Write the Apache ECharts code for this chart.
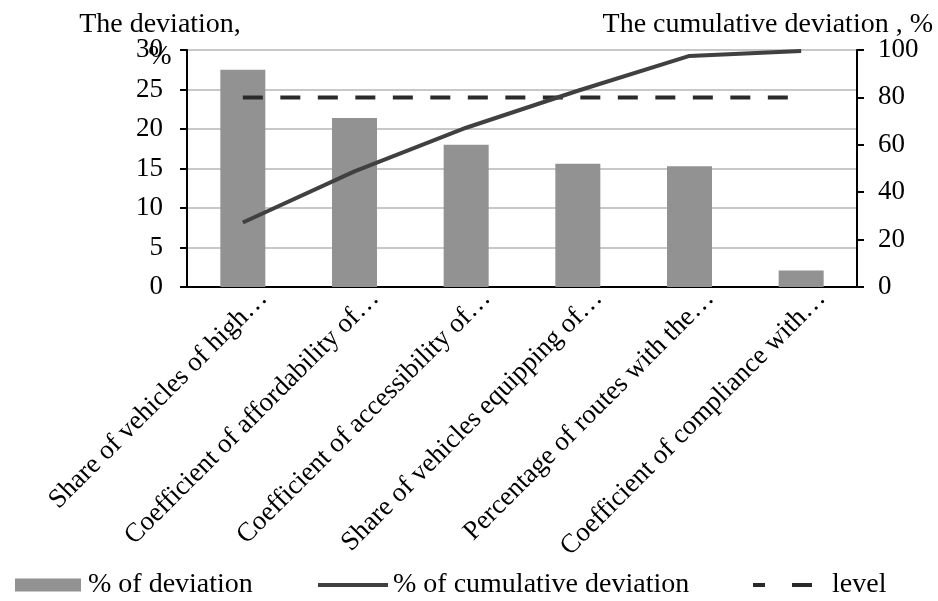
<!DOCTYPE html>
<html>
<head>
<meta charset="utf-8">
<script src="https://cdn.jsdelivr.net/npm/echarts@6/dist/echarts.min.js"></script>
<style>
html,body{margin:0;padding:0;background:#fff;}
#chart{width:938px;height:601px;}
</style>
</head>
<body>
<div id="chart"></div>
<script>
var categories = [
  'Share of vehicles of high\u2026',
  'Coefficient of affordability of\u2026',
  'Coefficient of accessibility of\u2026',
  'Share of vehicles equipping of\u2026',
  'Percentage of routes with the\u2026',
  'Coefficient of compliance with\u2026'
];
var deviation = [27.5, 21.4, 18.0, 15.6, 15.3, 2.1];
var cumulative = [27.2, 48.8, 67.2, 82.8, 97.5, 99.6];
var level = [80, 80, 80, 80, 80, 80];
var leftTicks = { min: 0, max: 30, interval: 5 };
var rightTicks = { min: 0, max: 100, interval: 20 };
var leftTitle = 'The deviation,\n%';
var rightTitle = 'The cumulative deviation , %';
var seriesNames = ['% of deviation', '% of cumulative deviation', 'level'];

var FONT = 'Liberation Serif';
var chart = echarts.init(document.getElementById('chart'), null, { renderer: 'canvas' });
var legendText = { fontFamily: FONT, fontSize: 28, color: '#000' };
chart.setOption({
  animation: false,
  backgroundColor: '#fff',
  grid: { left: 187, right: 81, top: 50, bottom: 314, outerBoundsMode: 'none', containLabel: false },
  graphic: [
    { type: 'text', x: 160, y: 9, style: { text: leftTitle, font: '28px "Liberation Serif"', fill: '#000', textAlign: 'center', textVerticalAlign: 'top', lineHeight: 32 } },
    { type: 'text', x: 933, y: 9, style: { text: rightTitle, font: '28px "Liberation Serif"', fill: '#000', textAlign: 'right', textVerticalAlign: 'top', lineHeight: 32 } }
  ],
  legend: [
    { data: [{ name: seriesNames[0], icon: 'rect' }], left: 15, bottom: 2, padding: 0, itemWidth: 66, itemHeight: 13, itemGap: 0,
      textStyle: Object.assign({}, legendText, { padding: [0, 0, 0, 2] }) },
    { data: [{ name: seriesNames[1], icon: 'rect' }], left: 318, bottom: 2, padding: 0, itemWidth: 70, itemHeight: 4, itemGap: 0,
      textStyle: Object.assign({}, legendText, { padding: [0, 0, 0, 0] }) },
    { data: [{ name: seriesNames[2], icon: 'path://M0,0h12v4h-12z M39,0h20v4h-20z' }], left: 753, bottom: 2, padding: 0, itemWidth: 59, itemHeight: 4, itemGap: 0,
      textStyle: Object.assign({}, legendText, { padding: [0, 0, 0, 15] }) }
  ],
  xAxis: {
    type: 'category',
    data: categories,
    axisLine: { show: true, lineStyle: { color: '#000', width: 2 } },
    axisTick: { show: false },
    axisLabel: {
      interval: 0, rotate: 45, margin: 28, color: '#000',
      fontFamily: FONT, fontSize: 27,
      padding: [0, -29, 0, 0]
    },
    splitLine: { show: false }
  },
  yAxis: [
    {
      type: 'value', min: leftTicks.min, max: leftTicks.max, interval: leftTicks.interval,
      axisLine: { show: true, lineStyle: { color: '#000', width: 2 } },
      axisTick: { show: true, length: 7, lineStyle: { color: '#000', width: 2 } },
      axisLabel: { margin: 24, color: '#000', fontFamily: FONT, fontSize: 27 },
      splitLine: { show: true, lineStyle: { color: '#c8c8c8', width: 2 } }
    },
    {
      type: 'value', min: rightTicks.min, max: rightTicks.max, interval: rightTicks.interval,
      position: 'right',
      axisLine: { show: true, lineStyle: { color: '#000', width: 2 } },
      axisTick: { show: true, length: 7, lineStyle: { color: '#000', width: 2 } },
      axisLabel: { margin: 21, color: '#000', fontFamily: FONT, fontSize: 27 },
      splitLine: { show: false }
    }
  ],
  series: [
    {
      name: seriesNames[0], type: 'bar', yAxisIndex: 0, data: deviation,
      barWidth: 45, itemStyle: { color: '#929292' }
    },
    {
      name: seriesNames[1], type: 'line', yAxisIndex: 1, data: cumulative,
      symbol: 'none', showSymbol: false, z: 5,
      lineStyle: { color: '#404040', width: 4 }, itemStyle: { color: '#404040' }
    },
    {
      name: seriesNames[2], type: 'line', yAxisIndex: 1, data: level,
      symbol: 'none', showSymbol: false, z: 4,
      lineStyle: { color: '#2a2a2a', width: 4, type: [20, 17.5] }, itemStyle: { color: '#2a2a2a' }
    }
  ]
});
</script>
</body>
</html>
